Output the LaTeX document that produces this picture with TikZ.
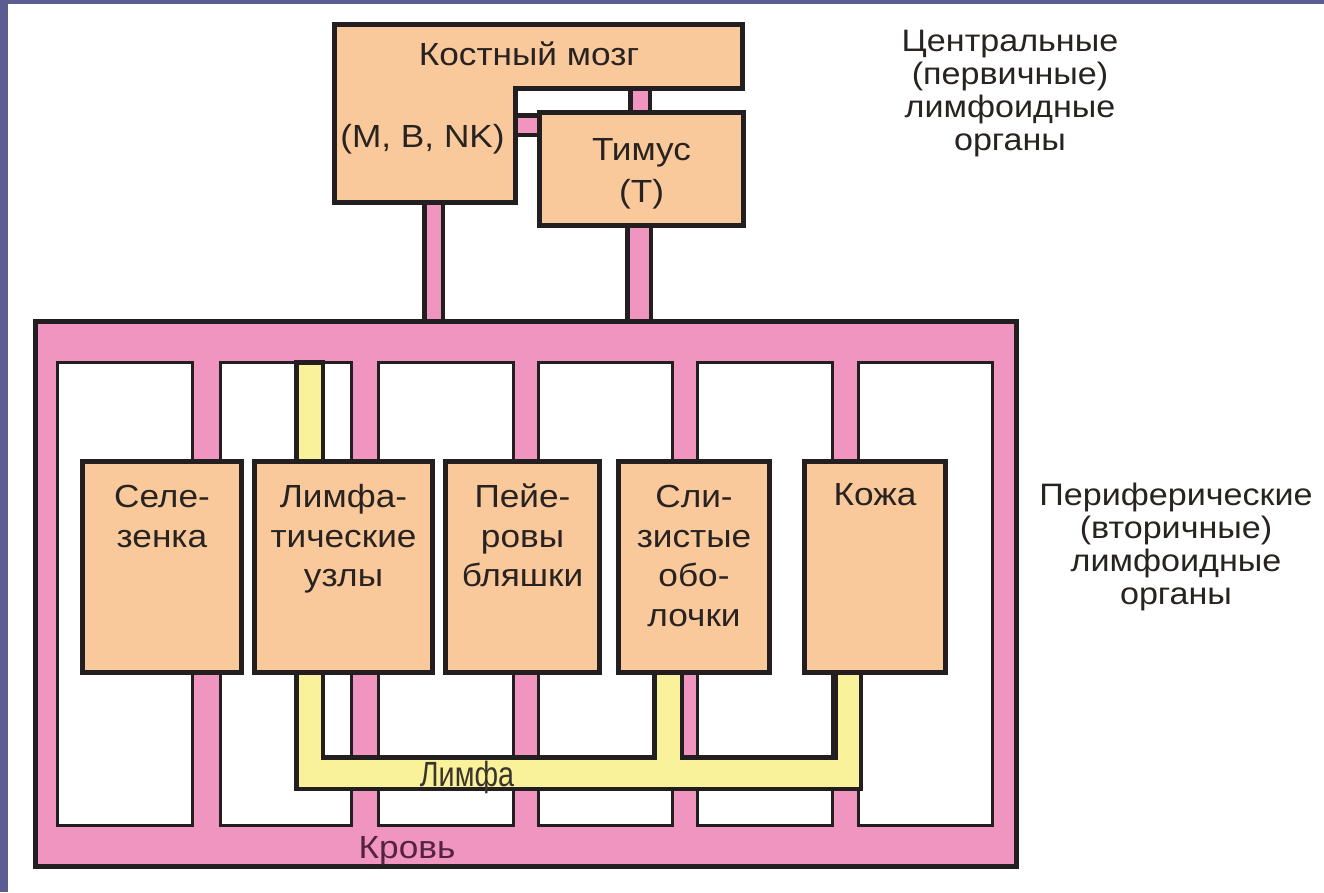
\documentclass[tikz,border=0pt]{standalone}
\usepackage{fontspec}
\setmainfont{Liberation Sans}[FakeStretch=1.1]
\newfontfamily\condfont{Liberation Sans}[FakeStretch=0.82]
\usetikzlibrary{calc}
\definecolor{ink}{RGB}{35,31,32}
\definecolor{peach}{RGB}{250,201,155}
\definecolor{bloodpink}{RGB}{240,148,192}
\definecolor{lymphyellow}{RGB}{250,242,155}
\definecolor{slide}{RGB}{92,92,146}
\definecolor{txt}{RGB}{40,35,33}
\definecolor{bloodtxt}{RGB}{85,35,65}
\newcommand{\ml}[1]{\begin{tabular}[t]{@{}c@{}}#1\end{tabular}}
\begin{document}
\begin{tikzpicture}[x=1pt,y=-1pt,
  organ/.style={draw=ink,line width=5pt,fill=peach,inner sep=0pt,minimum height=211pt},
  btext/.style={anchor=base,inner sep=0pt,text=txt,font=\fontsize{32}{39.5}\selectfont},
  side/.style={anchor=base,inner sep=0pt,text=txt,font=\fontsize{31}{33}\selectfont},
  pinkbar/.style={fill=bloodpink,draw=ink,line width=4.5pt},
  panel/.style={fill=white,draw=ink,line width=3pt},
  lymph/.style={fill=lymphyellow,draw=ink,line width=4.5pt,line join=miter}]
\useasboundingbox (0,0) rectangle (1324,892);
\fill[white] (0,0) rectangle (1324,892);
\fill[slide] (0,0) rectangle (8,892);
\fill[slide] (0,0) rectangle (1324,4);

% connectors of central organs
\draw[pinkbar] (424.25,190) rectangle (442.75,330);
\draw[pinkbar] (627.25,215) rectangle (650.75,330);
\draw[pinkbar] (630.25,80) rectangle (649.75,120);
\draw[pinkbar] (505,115.25) rectangle (548,134.75);

% blood frame
\draw[fill=bloodpink,draw=ink,line width=5pt] (35.5,321.5) rectangle (1016.5,866.5);
\foreach \a/\b in {57.5/192.5,220.5/351.5,378.5/513.5,538.5/672.5,697.5/832.5,858.5/992.5}
  \draw[panel] (\a,362.5) rectangle (\b,825.5);

% lymph
\draw[lymph] (296.25,468) -- (296.25,362.5) -- (322.75,362.5) -- (322.75,468);
\draw[lymph] (296.25,668) -- (296.25,788.75) -- (860.75,788.75) -- (860.75,668)
  -- (835.25,668) -- (835.25,757.25) -- (681.75,757.25) -- (681.75,668)
  -- (654.25,668) -- (654.25,757.25) -- (322.75,757.25) -- (322.75,668) -- cycle;

% peripheral organs
\node[organ,minimum width=159pt] (spleen) at (162,567) {};
\node[organ,minimum width=178pt] (nodes) at (343.5,567) {};
\node[organ,minimum width=154pt] (peyer) at (522.5,567) {};
\node[organ,minimum width=151pt] (mucosa) at (694,567) {};
\node[organ,minimum width=141pt] (skin) at (875,567) {};
\node[btext] (tspleen) at ($(spleen.north)+(0,48.5)$) {\ml{Селе-\\зенка}};
\node[btext] (tnodes) at ($(nodes.north)+(0,48.5)$) {\ml{Лимфа-\\тические\\узлы}};
\node[btext] (tpeyer) at ($(peyer.north)+(0,48.5)$) {\ml{Пейе-\\ровы\\бляшки}};
\node[btext] (tmucosa) at ($(mucosa.north)+(0,48.5)$) {\ml{Сли-\\зистые\\обо-\\лочки}};
\node[btext] (tskin) at ($(skin.north)+(0,46)$) {\ml{Кожа}};

% central organs
\draw[draw=ink,line width=5pt,fill=peach,line join=miter] (334.5,24.5) -- (742.5,24.5) -- (742.5,88.5)
  -- (515.5,88.5) -- (515.5,202.5) -- (334.5,202.5) -- cycle;
\node[draw=ink,line width=5pt,fill=peach,inner sep=0pt,minimum width=204pt,minimum height=113pt] (thymus) at (641.5,169) {};
\node[btext] (tmarrow) at (529,65) {Костный мозг};
\node[btext] (tmbnk) at (422.5,147) {(M, B, NK)};
\node[btext,font=\fontsize{32}{42}\selectfont] (tthymus) at (thymus.north |- 0,160) {\ml{Тимус\\(Т)}};

% band labels
\node[anchor=base,inner sep=0pt,text=ink!90!lymphyellow,font=\condfont\fontsize{35}{38}\selectfont] (lymphlbl) at (467,786) {Лимфа};
\node[anchor=base,inner sep=0pt,text=bloodtxt,font=\fontsize{32}{38}\selectfont] (bloodlbl) at (407,858) {Кровь};

% side labels
\node[side] (central) at (1010,51) {\ml{Центральные\\(первичные)\\лимфоидные\\органы}};
\node[side] (periph) at (1176,505) {\ml{Периферические\\(вторичные)\\лимфоидные\\органы}};
\end{tikzpicture}
\end{document}
